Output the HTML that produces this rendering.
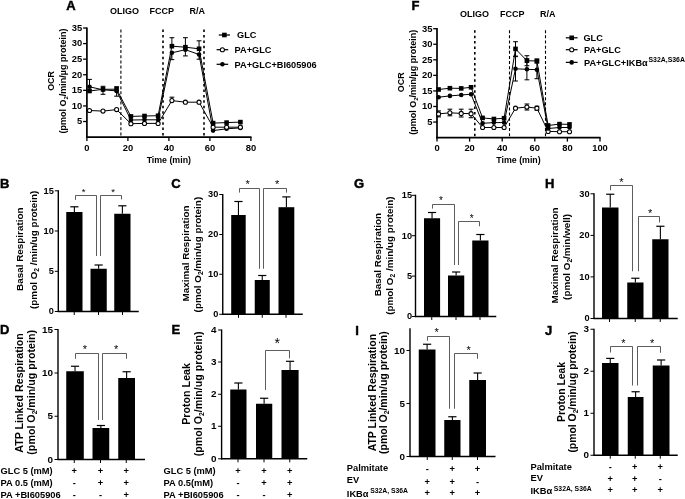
<!DOCTYPE html><html><head><meta charset="utf-8"><title>Figure</title><style>html,body{margin:0;padding:0;background:#fff}svg{display:block}text{font-family:"Liberation Sans", sans-serif;fill:#000}</style></head><body>
<svg width="685" height="499" viewBox="0 0 685 499">
<rect width="685" height="499" fill="#fff"/>
<text x="66.3" y="10.4" font-size="13" text-anchor="start" font-weight="bold" stroke="#000" stroke-width="0.45">A</text>
<line x1="86.9" y1="27.4" x2="86.9" y2="137.95" stroke="#000" stroke-width="1.7"/>
<line x1="83.1" y1="121.51" x2="86.9" y2="121.51" stroke="#000" stroke-width="1.3"/>
<text x="82.3" y="124.31" font-size="9.4" text-anchor="end" font-weight="bold">5</text>
<line x1="83.1" y1="105.93" x2="86.9" y2="105.93" stroke="#000" stroke-width="1.3"/>
<text x="82.3" y="108.73" font-size="9.4" text-anchor="end" font-weight="bold">10</text>
<line x1="83.1" y1="90.34" x2="86.9" y2="90.34" stroke="#000" stroke-width="1.3"/>
<text x="82.3" y="93.14" font-size="9.4" text-anchor="end" font-weight="bold">15</text>
<line x1="83.1" y1="74.76" x2="86.9" y2="74.76" stroke="#000" stroke-width="1.3"/>
<text x="82.3" y="77.56" font-size="9.4" text-anchor="end" font-weight="bold">20</text>
<line x1="83.1" y1="59.17" x2="86.9" y2="59.17" stroke="#000" stroke-width="1.3"/>
<text x="82.3" y="61.97" font-size="9.4" text-anchor="end" font-weight="bold">25</text>
<line x1="83.1" y1="43.59" x2="86.9" y2="43.59" stroke="#000" stroke-width="1.3"/>
<text x="82.3" y="46.39" font-size="9.4" text-anchor="end" font-weight="bold">30</text>
<line x1="83.1" y1="28.0" x2="86.9" y2="28.0" stroke="#000" stroke-width="1.3"/>
<text x="82.3" y="30.8" font-size="9.4" text-anchor="end" font-weight="bold">35</text>
<line x1="86.05" y1="137.1" x2="251.5" y2="137.1" stroke="#000" stroke-width="1.7"/>
<line x1="86.9" y1="137.1" x2="86.9" y2="141.1" stroke="#000" stroke-width="1.3"/>
<text x="86.9" y="150.6" font-size="9.4" text-anchor="middle" font-weight="bold">0</text>
<line x1="127.9" y1="137.1" x2="127.9" y2="141.1" stroke="#000" stroke-width="1.3"/>
<text x="127.9" y="150.6" font-size="9.4" text-anchor="middle" font-weight="bold">20</text>
<line x1="168.9" y1="137.1" x2="168.9" y2="141.1" stroke="#000" stroke-width="1.3"/>
<text x="168.9" y="150.6" font-size="9.4" text-anchor="middle" font-weight="bold">40</text>
<line x1="209.9" y1="137.1" x2="209.9" y2="141.1" stroke="#000" stroke-width="1.3"/>
<text x="209.9" y="150.6" font-size="9.4" text-anchor="middle" font-weight="bold">60</text>
<line x1="250.9" y1="137.1" x2="250.9" y2="141.1" stroke="#000" stroke-width="1.3"/>
<text x="250.9" y="150.6" font-size="9.4" text-anchor="middle" font-weight="bold">80</text>
<line x1="120.9" y1="29.5" x2="120.9" y2="137.1" stroke="#000" stroke-width="1.1" stroke-dasharray="3 2.15"/>
<line x1="163" y1="29.5" x2="163" y2="137.1" stroke="#000" stroke-width="1.6" stroke-dasharray="2.5 2.95"/>
<line x1="204" y1="29.5" x2="204" y2="137.1" stroke="#000" stroke-width="1.6" stroke-dasharray="2.5 2.95"/>
<text x="110" y="14.4" font-size="9" text-anchor="start" font-weight="bold">OLIGO</text>
<text x="149.5" y="14.4" font-size="9" text-anchor="start" font-weight="bold">FCCP</text>
<text x="189.5" y="14.4" font-size="9" text-anchor="start" font-weight="bold">R/A</text>
<polyline points="89.5,86.8 103,89.8 116.6,90.9 130.9,120 144.5,119.8 158.1,119.8 171.9,52.8 185.4,49.7 199.05,54.5 213.1,130.6 226.6,128.8 240.4,127.9" fill="none" stroke="#000" stroke-width="1.0"/>
<polyline points="89.5,91 103,89.3 116.6,89.2 130.9,116.4 144.5,116 158.1,115.7 171.9,46.2 185.4,47.2 199.05,48.8 213.1,123.1 226.6,122.6 240.4,122.1" fill="none" stroke="#000" stroke-width="1.0"/>
<polyline points="89.5,110.5 103,111.1 116.6,109.6 130.9,123.7 144.5,123.4 158.1,123.4 171.9,100.6 185.4,102.2 199.05,102.2 213.1,127.2 226.6,127.2 240.4,127.2" fill="none" stroke="#000" stroke-width="1.0"/>
<line x1="89.5" y1="79.4" x2="89.5" y2="86.8" stroke="#000" stroke-width="1.0"/>
<line x1="87.1" y1="79.4" x2="91.9" y2="79.4" stroke="#000" stroke-width="1.05"/>
<line x1="103" y1="94.3" x2="103" y2="89.8" stroke="#000" stroke-width="1.0"/>
<line x1="100.6" y1="94.3" x2="105.4" y2="94.3" stroke="#000" stroke-width="1.05"/>
<line x1="116.6" y1="96.2" x2="116.6" y2="90.9" stroke="#000" stroke-width="1.0"/>
<line x1="114.2" y1="96.2" x2="119.0" y2="96.2" stroke="#000" stroke-width="1.05"/>
<line x1="171.9" y1="59.6" x2="171.9" y2="52.8" stroke="#000" stroke-width="1.0"/>
<line x1="169.5" y1="59.6" x2="174.3" y2="59.6" stroke="#000" stroke-width="1.05"/>
<line x1="185.4" y1="55.9" x2="185.4" y2="49.7" stroke="#000" stroke-width="1.0"/>
<line x1="183.0" y1="55.9" x2="187.8" y2="55.9" stroke="#000" stroke-width="1.05"/>
<line x1="199.05" y1="59.2" x2="199.05" y2="54.5" stroke="#000" stroke-width="1.0"/>
<line x1="196.65" y1="59.2" x2="201.45" y2="59.2" stroke="#000" stroke-width="1.05"/>
<line x1="103" y1="86.3" x2="103" y2="89.3" stroke="#000" stroke-width="1.0"/>
<line x1="100.6" y1="86.3" x2="105.4" y2="86.3" stroke="#000" stroke-width="1.05"/>
<line x1="116.6" y1="86.7" x2="116.6" y2="89.2" stroke="#000" stroke-width="1.0"/>
<line x1="114.2" y1="86.7" x2="119.0" y2="86.7" stroke="#000" stroke-width="1.05"/>
<line x1="171.9" y1="37.7" x2="171.9" y2="46.2" stroke="#000" stroke-width="1.0"/>
<line x1="169.5" y1="37.7" x2="174.3" y2="37.7" stroke="#000" stroke-width="1.05"/>
<line x1="185.4" y1="37.7" x2="185.4" y2="47.2" stroke="#000" stroke-width="1.0"/>
<line x1="183.0" y1="37.7" x2="187.8" y2="37.7" stroke="#000" stroke-width="1.05"/>
<line x1="199.05" y1="40.8" x2="199.05" y2="48.8" stroke="#000" stroke-width="1.0"/>
<line x1="196.65" y1="40.8" x2="201.45" y2="40.8" stroke="#000" stroke-width="1.05"/>
<line x1="171.9" y1="97.2" x2="171.9" y2="100.6" stroke="#000" stroke-width="1.0"/>
<line x1="169.5" y1="97.2" x2="174.3" y2="97.2" stroke="#000" stroke-width="1.05"/>
<circle cx="89.5" cy="86.8" r="2.3" fill="#000"/>
<circle cx="103" cy="89.8" r="2.3" fill="#000"/>
<circle cx="116.6" cy="90.9" r="2.3" fill="#000"/>
<circle cx="130.9" cy="120" r="2.3" fill="#000"/>
<circle cx="144.5" cy="119.8" r="2.3" fill="#000"/>
<circle cx="158.1" cy="119.8" r="2.3" fill="#000"/>
<circle cx="171.9" cy="52.8" r="2.3" fill="#000"/>
<circle cx="185.4" cy="49.7" r="2.3" fill="#000"/>
<circle cx="199.05" cy="54.5" r="2.3" fill="#000"/>
<circle cx="213.1" cy="130.6" r="2.3" fill="#000"/>
<circle cx="226.6" cy="128.8" r="2.3" fill="#000"/>
<circle cx="240.4" cy="127.9" r="2.3" fill="#000"/>
<rect x="87.2" y="88.7" width="4.6" height="4.6" fill="#000"/>
<rect x="100.7" y="87.0" width="4.6" height="4.6" fill="#000"/>
<rect x="114.3" y="86.9" width="4.6" height="4.6" fill="#000"/>
<rect x="128.6" y="114.1" width="4.6" height="4.6" fill="#000"/>
<rect x="142.2" y="113.7" width="4.6" height="4.6" fill="#000"/>
<rect x="155.8" y="113.4" width="4.6" height="4.6" fill="#000"/>
<rect x="169.6" y="43.9" width="4.6" height="4.6" fill="#000"/>
<rect x="183.1" y="44.9" width="4.6" height="4.6" fill="#000"/>
<rect x="196.75" y="46.5" width="4.6" height="4.6" fill="#000"/>
<rect x="210.8" y="120.8" width="4.6" height="4.6" fill="#000"/>
<rect x="224.3" y="120.3" width="4.6" height="4.6" fill="#000"/>
<rect x="238.1" y="119.8" width="4.6" height="4.6" fill="#000"/>
<circle cx="89.5" cy="110.5" r="2.05" fill="#fff" stroke="#000" stroke-width="1.05"/>
<circle cx="103" cy="111.1" r="2.05" fill="#fff" stroke="#000" stroke-width="1.05"/>
<circle cx="116.6" cy="109.6" r="2.05" fill="#fff" stroke="#000" stroke-width="1.05"/>
<circle cx="130.9" cy="123.7" r="2.05" fill="#fff" stroke="#000" stroke-width="1.05"/>
<circle cx="144.5" cy="123.4" r="2.05" fill="#fff" stroke="#000" stroke-width="1.05"/>
<circle cx="158.1" cy="123.4" r="2.05" fill="#fff" stroke="#000" stroke-width="1.05"/>
<circle cx="171.9" cy="100.6" r="2.05" fill="#fff" stroke="#000" stroke-width="1.05"/>
<circle cx="185.4" cy="102.2" r="2.05" fill="#fff" stroke="#000" stroke-width="1.05"/>
<circle cx="199.05" cy="102.2" r="2.05" fill="#fff" stroke="#000" stroke-width="1.05"/>
<circle cx="213.1" cy="127.2" r="2.05" fill="#fff" stroke="#000" stroke-width="1.05"/>
<circle cx="226.6" cy="127.2" r="2.05" fill="#fff" stroke="#000" stroke-width="1.05"/>
<circle cx="240.4" cy="127.2" r="2.05" fill="#fff" stroke="#000" stroke-width="1.05"/>
<line x1="218.8" y1="35" x2="230" y2="35" stroke="#000" stroke-width="1.25"/>
<rect x="222.1" y="32.7" width="4.6" height="4.6" fill="#000"/>
<text x="237" y="38.3" font-size="9.2" text-anchor="start" font-weight="bold">GLC</text>
<line x1="216.6" y1="49.7" x2="228.2" y2="49.7" stroke="#000" stroke-width="1.25"/>
<circle cx="222.4" cy="49.7" r="2.05" fill="#fff" stroke="#000" stroke-width="1.05"/>
<text x="234.6" y="53.0" font-size="9.2" text-anchor="start" font-weight="bold">PA+GLC</text>
<line x1="216.6" y1="64.3" x2="228.2" y2="64.3" stroke="#000" stroke-width="1.25"/>
<circle cx="222.4" cy="64.3" r="2.3" fill="#000"/>
<text x="234.6" y="67.6" font-size="9.2" text-anchor="start" font-weight="bold">PA+GLC+BI605906</text>
<text x="54.2" y="81" font-size="8.9" text-anchor="middle" font-weight="bold" transform="rotate(-90 54.2 81)">OCR</text>
<text x="66.2" y="81" font-size="9.0" text-anchor="middle" font-weight="bold" transform="rotate(-90 66.2 81)">(pmol O<tspan font-size="6" dy="2">2</tspan><tspan dy="-2">/min/µg protein)</tspan></text>
<text x="168.8" y="163.2" font-size="8.8" text-anchor="middle" font-weight="bold">Time (min)</text>
<text x="411.5" y="10.4" font-size="13" text-anchor="start" font-weight="bold" stroke="#000" stroke-width="0.45">F</text>
<line x1="437" y1="28.1" x2="437" y2="138.45" stroke="#000" stroke-width="1.7"/>
<line x1="433.2" y1="122.04" x2="437" y2="122.04" stroke="#000" stroke-width="1.3"/>
<text x="432.4" y="124.84" font-size="9.4" text-anchor="end" font-weight="bold">5</text>
<line x1="433.2" y1="106.49" x2="437" y2="106.49" stroke="#000" stroke-width="1.3"/>
<text x="432.4" y="109.29" font-size="9.4" text-anchor="end" font-weight="bold">10</text>
<line x1="433.2" y1="90.93" x2="437" y2="90.93" stroke="#000" stroke-width="1.3"/>
<text x="432.4" y="93.73" font-size="9.4" text-anchor="end" font-weight="bold">15</text>
<line x1="433.2" y1="75.37" x2="437" y2="75.37" stroke="#000" stroke-width="1.3"/>
<text x="432.4" y="78.17" font-size="9.4" text-anchor="end" font-weight="bold">20</text>
<line x1="433.2" y1="59.81" x2="437" y2="59.81" stroke="#000" stroke-width="1.3"/>
<text x="432.4" y="62.61" font-size="9.4" text-anchor="end" font-weight="bold">25</text>
<line x1="433.2" y1="44.26" x2="437" y2="44.26" stroke="#000" stroke-width="1.3"/>
<text x="432.4" y="47.06" font-size="9.4" text-anchor="end" font-weight="bold">30</text>
<line x1="433.2" y1="28.7" x2="437" y2="28.7" stroke="#000" stroke-width="1.3"/>
<text x="432.4" y="31.5" font-size="9.4" text-anchor="end" font-weight="bold">35</text>
<line x1="436.15" y1="137.6" x2="600.6" y2="137.6" stroke="#000" stroke-width="1.7"/>
<line x1="437.0" y1="137.6" x2="437.0" y2="141.6" stroke="#000" stroke-width="1.3"/>
<text x="437.0" y="151.1" font-size="9.4" text-anchor="middle" font-weight="bold">0</text>
<line x1="469.6" y1="137.6" x2="469.6" y2="141.6" stroke="#000" stroke-width="1.3"/>
<text x="469.6" y="151.1" font-size="9.4" text-anchor="middle" font-weight="bold">20</text>
<line x1="502.2" y1="137.6" x2="502.2" y2="141.6" stroke="#000" stroke-width="1.3"/>
<text x="502.2" y="151.1" font-size="9.4" text-anchor="middle" font-weight="bold">40</text>
<line x1="534.8" y1="137.6" x2="534.8" y2="141.6" stroke="#000" stroke-width="1.3"/>
<text x="534.8" y="151.1" font-size="9.4" text-anchor="middle" font-weight="bold">60</text>
<line x1="567.4" y1="137.6" x2="567.4" y2="141.6" stroke="#000" stroke-width="1.3"/>
<text x="567.4" y="151.1" font-size="9.4" text-anchor="middle" font-weight="bold">80</text>
<line x1="600.0" y1="137.6" x2="600.0" y2="141.6" stroke="#000" stroke-width="1.3"/>
<text x="600.0" y="151.1" font-size="9.4" text-anchor="middle" font-weight="bold">100</text>
<line x1="474.8" y1="30.2" x2="474.8" y2="137.6" stroke="#000" stroke-width="1.6" stroke-dasharray="2.5 2.95"/>
<line x1="509.5" y1="30.2" x2="509.5" y2="137.6" stroke="#000" stroke-width="1.1" stroke-dasharray="3 2.15"/>
<line x1="545.5" y1="30.2" x2="545.5" y2="137.6" stroke="#000" stroke-width="1.1" stroke-dasharray="3 2.15"/>
<text x="460" y="16.8" font-size="9" text-anchor="start" font-weight="bold">OLIGO</text>
<text x="500" y="16.8" font-size="9" text-anchor="start" font-weight="bold">FCCP</text>
<text x="540" y="16.8" font-size="9" text-anchor="start" font-weight="bold">R/A</text>
<polyline points="438.6,113.9 449.9,112.8 461.2,113.4 471.05,113.7 482.6,127.5 493.9,127.5 504.1,127.5 515.5,108.2 526.9,107 536.9,108.2 548.1,131.4 559.5,131.7 569.5,131.7" fill="none" stroke="#000" stroke-width="1.0"/>
<polyline points="438.6,89.5 449.9,88.2 461.2,88.4 471.05,87.3 482.6,117.9 493.9,119 504.1,118.2 515.5,48.9 526.9,60.7 536.9,61 548.1,125.5 559.5,124.1 569.5,124.4" fill="none" stroke="#000" stroke-width="1.0"/>
<polyline points="438.6,97.2 449.9,95.9 461.2,95 471.05,94.2 482.6,123.3 493.9,122.6 504.1,122.6 515.5,68.8 526.9,69.3 536.9,69.7 548.1,128.5 559.5,127.5 569.5,127.5" fill="none" stroke="#000" stroke-width="1.0"/>
<line x1="438.6" y1="110.9" x2="438.6" y2="113.9" stroke="#000" stroke-width="1.0"/>
<line x1="436.2" y1="110.9" x2="441.0" y2="110.9" stroke="#000" stroke-width="1.05"/>
<line x1="438.6" y1="116.9" x2="438.6" y2="113.9" stroke="#000" stroke-width="1.0"/>
<line x1="436.2" y1="116.9" x2="441.0" y2="116.9" stroke="#000" stroke-width="1.05"/>
<line x1="449.9" y1="109.2" x2="449.9" y2="112.8" stroke="#000" stroke-width="1.0"/>
<line x1="447.5" y1="109.2" x2="452.3" y2="109.2" stroke="#000" stroke-width="1.05"/>
<line x1="449.9" y1="115.8" x2="449.9" y2="112.8" stroke="#000" stroke-width="1.0"/>
<line x1="447.5" y1="115.8" x2="452.3" y2="115.8" stroke="#000" stroke-width="1.05"/>
<line x1="461.2" y1="109.2" x2="461.2" y2="113.4" stroke="#000" stroke-width="1.0"/>
<line x1="458.8" y1="109.2" x2="463.6" y2="109.2" stroke="#000" stroke-width="1.05"/>
<line x1="461.2" y1="117.0" x2="461.2" y2="113.4" stroke="#000" stroke-width="1.0"/>
<line x1="458.8" y1="117.0" x2="463.6" y2="117.0" stroke="#000" stroke-width="1.05"/>
<line x1="471.05" y1="109.2" x2="471.05" y2="113.7" stroke="#000" stroke-width="1.0"/>
<line x1="468.65" y1="109.2" x2="473.45" y2="109.2" stroke="#000" stroke-width="1.05"/>
<line x1="471.05" y1="117.7" x2="471.05" y2="113.7" stroke="#000" stroke-width="1.0"/>
<line x1="468.65" y1="117.7" x2="473.45" y2="117.7" stroke="#000" stroke-width="1.05"/>
<line x1="526.9" y1="104" x2="526.9" y2="107" stroke="#000" stroke-width="1.0"/>
<line x1="524.5" y1="104" x2="529.3" y2="104" stroke="#000" stroke-width="1.05"/>
<line x1="526.9" y1="110" x2="526.9" y2="107" stroke="#000" stroke-width="1.0"/>
<line x1="524.5" y1="110" x2="529.3" y2="110" stroke="#000" stroke-width="1.05"/>
<line x1="536.9" y1="106.2" x2="536.9" y2="108.2" stroke="#000" stroke-width="1.0"/>
<line x1="534.5" y1="106.2" x2="539.3" y2="106.2" stroke="#000" stroke-width="1.05"/>
<line x1="536.9" y1="110.2" x2="536.9" y2="108.2" stroke="#000" stroke-width="1.0"/>
<line x1="534.5" y1="110.2" x2="539.3" y2="110.2" stroke="#000" stroke-width="1.05"/>
<line x1="515.5" y1="41.7" x2="515.5" y2="48.9" stroke="#000" stroke-width="1.0"/>
<line x1="513.1" y1="41.7" x2="517.9" y2="41.7" stroke="#000" stroke-width="1.05"/>
<line x1="515.5" y1="56.1" x2="515.5" y2="48.9" stroke="#000" stroke-width="1.0"/>
<line x1="513.1" y1="56.1" x2="517.9" y2="56.1" stroke="#000" stroke-width="1.05"/>
<line x1="526.9" y1="55.7" x2="526.9" y2="60.7" stroke="#000" stroke-width="1.0"/>
<line x1="524.5" y1="55.7" x2="529.3" y2="55.7" stroke="#000" stroke-width="1.05"/>
<line x1="526.9" y1="65.7" x2="526.9" y2="60.7" stroke="#000" stroke-width="1.0"/>
<line x1="524.5" y1="65.7" x2="529.3" y2="65.7" stroke="#000" stroke-width="1.05"/>
<line x1="536.9" y1="59" x2="536.9" y2="61" stroke="#000" stroke-width="1.0"/>
<line x1="534.5" y1="59" x2="539.3" y2="59" stroke="#000" stroke-width="1.05"/>
<line x1="536.9" y1="63" x2="536.9" y2="61" stroke="#000" stroke-width="1.0"/>
<line x1="534.5" y1="63" x2="539.3" y2="63" stroke="#000" stroke-width="1.05"/>
<line x1="515.5" y1="56.6" x2="515.5" y2="68.8" stroke="#000" stroke-width="1.0"/>
<line x1="513.1" y1="56.6" x2="517.9" y2="56.6" stroke="#000" stroke-width="1.05"/>
<line x1="515.5" y1="81.0" x2="515.5" y2="68.8" stroke="#000" stroke-width="1.0"/>
<line x1="513.1" y1="81.0" x2="517.9" y2="81.0" stroke="#000" stroke-width="1.05"/>
<line x1="526.9" y1="58.8" x2="526.9" y2="69.3" stroke="#000" stroke-width="1.0"/>
<line x1="524.5" y1="58.8" x2="529.3" y2="58.8" stroke="#000" stroke-width="1.05"/>
<line x1="526.9" y1="79.8" x2="526.9" y2="69.3" stroke="#000" stroke-width="1.0"/>
<line x1="524.5" y1="79.8" x2="529.3" y2="79.8" stroke="#000" stroke-width="1.05"/>
<line x1="536.9" y1="60.7" x2="536.9" y2="69.7" stroke="#000" stroke-width="1.0"/>
<line x1="534.5" y1="60.7" x2="539.3" y2="60.7" stroke="#000" stroke-width="1.05"/>
<line x1="536.9" y1="78.7" x2="536.9" y2="69.7" stroke="#000" stroke-width="1.0"/>
<line x1="534.5" y1="78.7" x2="539.3" y2="78.7" stroke="#000" stroke-width="1.05"/>
<circle cx="438.6" cy="113.9" r="2.05" fill="#fff" stroke="#000" stroke-width="1.05"/>
<circle cx="449.9" cy="112.8" r="2.05" fill="#fff" stroke="#000" stroke-width="1.05"/>
<circle cx="461.2" cy="113.4" r="2.05" fill="#fff" stroke="#000" stroke-width="1.05"/>
<circle cx="471.05" cy="113.7" r="2.05" fill="#fff" stroke="#000" stroke-width="1.05"/>
<circle cx="482.6" cy="127.5" r="2.05" fill="#fff" stroke="#000" stroke-width="1.05"/>
<circle cx="493.9" cy="127.5" r="2.05" fill="#fff" stroke="#000" stroke-width="1.05"/>
<circle cx="504.1" cy="127.5" r="2.05" fill="#fff" stroke="#000" stroke-width="1.05"/>
<circle cx="515.5" cy="108.2" r="2.05" fill="#fff" stroke="#000" stroke-width="1.05"/>
<circle cx="526.9" cy="107" r="2.05" fill="#fff" stroke="#000" stroke-width="1.05"/>
<circle cx="536.9" cy="108.2" r="2.05" fill="#fff" stroke="#000" stroke-width="1.05"/>
<circle cx="548.1" cy="131.4" r="2.05" fill="#fff" stroke="#000" stroke-width="1.05"/>
<circle cx="559.5" cy="131.7" r="2.05" fill="#fff" stroke="#000" stroke-width="1.05"/>
<circle cx="569.5" cy="131.7" r="2.05" fill="#fff" stroke="#000" stroke-width="1.05"/>
<rect x="436.3" y="87.2" width="4.6" height="4.6" fill="#000"/>
<rect x="447.6" y="85.9" width="4.6" height="4.6" fill="#000"/>
<rect x="458.9" y="86.1" width="4.6" height="4.6" fill="#000"/>
<rect x="468.75" y="85.0" width="4.6" height="4.6" fill="#000"/>
<rect x="480.3" y="115.6" width="4.6" height="4.6" fill="#000"/>
<rect x="491.6" y="116.7" width="4.6" height="4.6" fill="#000"/>
<rect x="501.8" y="115.9" width="4.6" height="4.6" fill="#000"/>
<rect x="513.2" y="46.6" width="4.6" height="4.6" fill="#000"/>
<rect x="524.6" y="58.4" width="4.6" height="4.6" fill="#000"/>
<rect x="534.6" y="58.7" width="4.6" height="4.6" fill="#000"/>
<rect x="545.8" y="123.2" width="4.6" height="4.6" fill="#000"/>
<rect x="557.2" y="121.8" width="4.6" height="4.6" fill="#000"/>
<rect x="567.2" y="122.1" width="4.6" height="4.6" fill="#000"/>
<circle cx="438.6" cy="97.2" r="2.3" fill="#000"/>
<circle cx="449.9" cy="95.9" r="2.3" fill="#000"/>
<circle cx="461.2" cy="95" r="2.3" fill="#000"/>
<circle cx="471.05" cy="94.2" r="2.3" fill="#000"/>
<circle cx="482.6" cy="123.3" r="2.3" fill="#000"/>
<circle cx="493.9" cy="122.6" r="2.3" fill="#000"/>
<circle cx="504.1" cy="122.6" r="2.3" fill="#000"/>
<circle cx="515.5" cy="68.8" r="2.3" fill="#000"/>
<circle cx="526.9" cy="69.3" r="2.3" fill="#000"/>
<circle cx="536.9" cy="69.7" r="2.3" fill="#000"/>
<circle cx="548.1" cy="128.5" r="2.3" fill="#000"/>
<circle cx="559.5" cy="127.5" r="2.3" fill="#000"/>
<circle cx="569.5" cy="127.5" r="2.3" fill="#000"/>
<line x1="565.8" y1="37.8" x2="577.6" y2="37.8" stroke="#000" stroke-width="1.25"/>
<rect x="569.4" y="35.5" width="4.6" height="4.6" fill="#000"/>
<text x="583.4" y="41.1" font-size="9.2" text-anchor="start" font-weight="bold">GLC</text>
<line x1="565.8" y1="49.7" x2="577.6" y2="49.7" stroke="#000" stroke-width="1.25"/>
<circle cx="571.7" cy="49.7" r="2.05" fill="#fff" stroke="#000" stroke-width="1.05"/>
<text x="584" y="53.0" font-size="9.2" text-anchor="start" font-weight="bold">PA+GLC</text>
<line x1="565.8" y1="62.4" x2="577.6" y2="62.4" stroke="#000" stroke-width="1.25"/>
<circle cx="571.7" cy="62.4" r="2.3" fill="#000"/>
<text x="584" y="65.7" font-size="9.2" text-anchor="start" font-weight="bold">PA+GLC+IKBα<tspan font-size="6.9" dy="-3.9" dx="0.8">S32A,S36A</tspan></text>
<text x="404.2" y="82.3" font-size="8.9" text-anchor="middle" font-weight="bold" transform="rotate(-90 404.2 82.3)">OCR</text>
<text x="416.2" y="82.3" font-size="9.0" text-anchor="middle" font-weight="bold" transform="rotate(-90 416.2 82.3)">(pmol O<tspan font-size="6" dy="2">2</tspan><tspan dy="-2">/min/µg protein)</tspan></text>
<text x="518.5" y="163.2" font-size="8.8" text-anchor="middle" font-weight="bold">Time (min)</text>
<text x="0" y="188" font-size="13" text-anchor="start" font-weight="bold" stroke="#000" stroke-width="0.45">B</text>
<line x1="58.3" y1="190.3" x2="58.3" y2="312.1" stroke="#000" stroke-width="1.4"/>
<line x1="54.8" y1="190.8" x2="58.3" y2="190.8" stroke="#000" stroke-width="1"/>
<text x="53.8" y="193.71" font-size="9.2" text-anchor="end" font-weight="bold">15</text>
<line x1="54.8" y1="231" x2="58.3" y2="231" stroke="#000" stroke-width="1"/>
<text x="53.8" y="233.91" font-size="9.2" text-anchor="end" font-weight="bold">10</text>
<line x1="54.8" y1="271.3" x2="58.3" y2="271.3" stroke="#000" stroke-width="1"/>
<text x="53.8" y="274.21" font-size="9.2" text-anchor="end" font-weight="bold">5</text>
<line x1="54.8" y1="311.5" x2="58.3" y2="311.5" stroke="#000" stroke-width="1"/>
<text x="53.8" y="314.41" font-size="9.2" text-anchor="end" font-weight="bold">0</text>
<line x1="57.7" y1="311.5" x2="138.75" y2="311.5" stroke="#000" stroke-width="1.4"/>
<line x1="74.25" y1="311.5" x2="74.25" y2="315.0" stroke="#000" stroke-width="1"/>
<line x1="98.5" y1="311.5" x2="98.5" y2="315.0" stroke="#000" stroke-width="1"/>
<line x1="122.5" y1="311.5" x2="122.5" y2="315.0" stroke="#000" stroke-width="1"/>
<rect x="66.25" y="212" width="16.25" height="99.5" fill="#000"/>
<line x1="74.38" y1="206.8" x2="74.38" y2="212" stroke="#000" stroke-width="1.1"/>
<line x1="70.28" y1="206.8" x2="78.47" y2="206.8" stroke="#000" stroke-width="1.2"/>
<rect x="90.5" y="268.75" width="16.25" height="42.75" fill="#000"/>
<line x1="98.62" y1="265" x2="98.62" y2="268.75" stroke="#000" stroke-width="1.1"/>
<line x1="94.53" y1="265" x2="102.72" y2="265" stroke="#000" stroke-width="1.2"/>
<rect x="114.25" y="213.75" width="16.25" height="97.75" fill="#000"/>
<line x1="122.38" y1="205.8" x2="122.38" y2="213.75" stroke="#000" stroke-width="1.1"/>
<line x1="118.28" y1="205.8" x2="126.47" y2="205.8" stroke="#000" stroke-width="1.2"/>
<polyline points="75.5,199.9 75.5,195.5 96.5,195.5 96.5,256" fill="none" stroke="#333" stroke-width="0.8"/>
<polyline points="100.5,256 100.5,195.5 121.5,195.5 121.5,199.4" fill="none" stroke="#333" stroke-width="0.8"/>
<text x="83.7" y="194.75" font-size="9.5" text-anchor="middle" font-weight="normal">*</text>
<text x="113.2" y="194.75" font-size="9.5" text-anchor="middle" font-weight="normal">*</text>
<text x="23.06" y="249.2" font-size="9.9" text-anchor="middle" font-weight="bold" transform="rotate(-90 23.06 249.2)">Basal Respiration</text>
<text x="36.56" y="249.8" font-size="9.9" text-anchor="middle" font-weight="bold" transform="rotate(-90 36.56 249.8)">(pmol O<tspan font-size="6.6" dy="2">2</tspan><tspan dy="-2">&#160;/min/ug protein)</tspan></text>
<text x="171.3" y="188" font-size="13" text-anchor="start" font-weight="bold" stroke="#000" stroke-width="0.45">C</text>
<line x1="222.75" y1="194.0" x2="222.75" y2="314.9" stroke="#000" stroke-width="1.4"/>
<line x1="219.25" y1="194.5" x2="222.75" y2="194.5" stroke="#000" stroke-width="1"/>
<text x="218.25" y="197.41" font-size="9.2" text-anchor="end" font-weight="bold">30</text>
<line x1="219.25" y1="234.5" x2="222.75" y2="234.5" stroke="#000" stroke-width="1"/>
<text x="218.25" y="237.41" font-size="9.2" text-anchor="end" font-weight="bold">20</text>
<line x1="219.25" y1="274.25" x2="222.75" y2="274.25" stroke="#000" stroke-width="1"/>
<text x="218.25" y="277.16" font-size="9.2" text-anchor="end" font-weight="bold">10</text>
<line x1="219.25" y1="314.3" x2="222.75" y2="314.3" stroke="#000" stroke-width="1"/>
<text x="218.25" y="317.21" font-size="9.2" text-anchor="end" font-weight="bold">0</text>
<line x1="222.15" y1="314.3" x2="302.75" y2="314.3" stroke="#000" stroke-width="1.4"/>
<line x1="238.5" y1="314.3" x2="238.5" y2="317.8" stroke="#000" stroke-width="1"/>
<line x1="262.25" y1="314.3" x2="262.25" y2="317.8" stroke="#000" stroke-width="1"/>
<line x1="286" y1="314.3" x2="286" y2="317.8" stroke="#000" stroke-width="1"/>
<rect x="231.2" y="215" width="14.5" height="99.3" fill="#000"/>
<line x1="238.45" y1="201.5" x2="238.45" y2="215" stroke="#000" stroke-width="1.1"/>
<line x1="234.35" y1="201.5" x2="242.55" y2="201.5" stroke="#000" stroke-width="1.2"/>
<rect x="254.75" y="280" width="15.0" height="34.3" fill="#000"/>
<line x1="262.25" y1="275.5" x2="262.25" y2="280" stroke="#000" stroke-width="1.1"/>
<line x1="258.15" y1="275.5" x2="266.35" y2="275.5" stroke="#000" stroke-width="1.2"/>
<rect x="278.5" y="207.2" width="15.8" height="107.1" fill="#000"/>
<line x1="286.4" y1="196.9" x2="286.4" y2="207.2" stroke="#000" stroke-width="1.1"/>
<line x1="282.3" y1="196.9" x2="290.5" y2="196.9" stroke="#000" stroke-width="1.2"/>
<polyline points="239.5,192.6 239.5,188.5 259.5,188.5 259.5,268.75" fill="none" stroke="#333" stroke-width="0.8"/>
<polyline points="263.5,268.75 263.5,188.5 286.5,188.5 286.5,192.6" fill="none" stroke="#333" stroke-width="0.8"/>
<text x="247.75" y="187.61" font-size="11" text-anchor="middle" font-weight="normal">*</text>
<text x="277.25" y="187.61" font-size="11" text-anchor="middle" font-weight="normal">*</text>
<text x="189.06" y="253.5" font-size="9.9" text-anchor="middle" font-weight="bold" transform="rotate(-90 189.06 253.5)">Maximal Respiration</text>
<text x="201.26" y="254.6" font-size="9.9" text-anchor="middle" font-weight="bold" transform="rotate(-90 201.26 254.6)">(pmol O<tspan font-size="6.6" dy="2">2</tspan><tspan dy="-2">/min/ug protein)</tspan></text>
<text x="0" y="334.3" font-size="13" text-anchor="start" font-weight="bold" stroke="#000" stroke-width="0.45">D</text>
<line x1="58" y1="329.0" x2="58" y2="460.1" stroke="#000" stroke-width="1.4"/>
<line x1="54.5" y1="329.5" x2="58" y2="329.5" stroke="#000" stroke-width="1"/>
<text x="53.0" y="332.66" font-size="9.9" text-anchor="end" font-weight="bold">15</text>
<line x1="54.5" y1="373" x2="58" y2="373" stroke="#000" stroke-width="1"/>
<text x="53.0" y="376.16" font-size="9.9" text-anchor="end" font-weight="bold">10</text>
<line x1="54.5" y1="416.25" x2="58" y2="416.25" stroke="#000" stroke-width="1"/>
<text x="53.0" y="419.41" font-size="9.9" text-anchor="end" font-weight="bold">5</text>
<line x1="54.5" y1="459.5" x2="58" y2="459.5" stroke="#000" stroke-width="1"/>
<text x="53.0" y="462.66" font-size="9.9" text-anchor="end" font-weight="bold">0</text>
<line x1="57.4" y1="459.5" x2="145" y2="459.5" stroke="#000" stroke-width="1.4"/>
<line x1="74.25" y1="459.5" x2="74.25" y2="463.0" stroke="#000" stroke-width="1"/>
<line x1="100.5" y1="459.5" x2="100.5" y2="463.0" stroke="#000" stroke-width="1"/>
<line x1="126.25" y1="459.5" x2="126.25" y2="463.0" stroke="#000" stroke-width="1"/>
<rect x="66.25" y="371.25" width="17.55" height="88.25" fill="#000"/>
<line x1="75.03" y1="366.25" x2="75.03" y2="371.25" stroke="#000" stroke-width="1.1"/>
<line x1="70.93" y1="366.25" x2="79.12" y2="366.25" stroke="#000" stroke-width="1.2"/>
<rect x="92.5" y="428" width="16.75" height="31.5" fill="#000"/>
<line x1="100.88" y1="425.5" x2="100.88" y2="428" stroke="#000" stroke-width="1.1"/>
<line x1="96.78" y1="425.5" x2="104.97" y2="425.5" stroke="#000" stroke-width="1.2"/>
<rect x="118.25" y="378" width="16.75" height="81.5" fill="#000"/>
<line x1="126.62" y1="371.75" x2="126.62" y2="378" stroke="#000" stroke-width="1.1"/>
<line x1="122.53" y1="371.75" x2="130.72" y2="371.75" stroke="#000" stroke-width="1.2"/>
<polyline points="75.5,358.75 75.5,353.5 98.5,353.5 98.5,420" fill="none" stroke="#333" stroke-width="0.8"/>
<polyline points="102.5,420 102.5,353.5 126.5,353.5 126.5,358.75" fill="none" stroke="#333" stroke-width="0.8"/>
<text x="85" y="352.61" font-size="11" text-anchor="middle" font-weight="normal">*</text>
<text x="116.25" y="352.61" font-size="11" text-anchor="middle" font-weight="normal">*</text>
<text x="23.15" y="393" font-size="10.7" text-anchor="middle" font-weight="bold" transform="rotate(-90 23.15 393)">ATP Linked Respiration</text>
<text x="34.65" y="392.3" font-size="10.7" text-anchor="middle" font-weight="bold" transform="rotate(-90 34.65 392.3)">(pmol O<tspan font-size="6.6" dy="2">2</tspan><tspan dy="-2">/min/ug protein)</tspan></text>
<text x="171.5" y="334.3" font-size="13" text-anchor="start" font-weight="bold" stroke="#000" stroke-width="0.45">E</text>
<line x1="221.6" y1="329.5" x2="221.6" y2="459.4" stroke="#000" stroke-width="1.4"/>
<line x1="218.1" y1="330" x2="221.6" y2="330" stroke="#000" stroke-width="1"/>
<text x="216.6" y="333.16" font-size="9.9" text-anchor="end" font-weight="bold">4</text>
<line x1="218.1" y1="362" x2="221.6" y2="362" stroke="#000" stroke-width="1"/>
<text x="216.6" y="365.16" font-size="9.9" text-anchor="end" font-weight="bold">3</text>
<line x1="218.1" y1="394.25" x2="221.6" y2="394.25" stroke="#000" stroke-width="1"/>
<text x="216.6" y="397.41" font-size="9.9" text-anchor="end" font-weight="bold">2</text>
<line x1="218.1" y1="426.25" x2="221.6" y2="426.25" stroke="#000" stroke-width="1"/>
<text x="216.6" y="429.41" font-size="9.9" text-anchor="end" font-weight="bold">1</text>
<line x1="218.1" y1="458.8" x2="221.6" y2="458.8" stroke="#000" stroke-width="1"/>
<text x="216.6" y="461.96" font-size="9.9" text-anchor="end" font-weight="bold">0</text>
<line x1="221.0" y1="458.8" x2="307.25" y2="458.8" stroke="#000" stroke-width="1.4"/>
<line x1="238" y1="458.8" x2="238" y2="462.3" stroke="#000" stroke-width="1"/>
<line x1="264" y1="458.8" x2="264" y2="462.3" stroke="#000" stroke-width="1"/>
<line x1="289.75" y1="458.8" x2="289.75" y2="462.3" stroke="#000" stroke-width="1"/>
<rect x="230.25" y="389.5" width="16.25" height="69.3" fill="#000"/>
<line x1="238.38" y1="383" x2="238.38" y2="389.5" stroke="#000" stroke-width="1.1"/>
<line x1="234.28" y1="383" x2="242.47" y2="383" stroke="#000" stroke-width="1.2"/>
<rect x="256" y="403.75" width="16.25" height="55.05" fill="#000"/>
<line x1="264.12" y1="398.25" x2="264.12" y2="403.75" stroke="#000" stroke-width="1.1"/>
<line x1="260.02" y1="398.25" x2="268.23" y2="398.25" stroke="#000" stroke-width="1.2"/>
<rect x="281.5" y="370" width="17.1" height="88.8" fill="#000"/>
<line x1="290.05" y1="361.3" x2="290.05" y2="370" stroke="#000" stroke-width="1.1"/>
<line x1="285.95" y1="361.3" x2="294.15" y2="361.3" stroke="#000" stroke-width="1.2"/>
<polyline points="265.5,390 265.5,350.5 289.5,350.5 289.5,358.4" fill="none" stroke="#333" stroke-width="0.8"/>
<text x="277.2" y="348.34" font-size="14" text-anchor="middle" font-weight="normal">*</text>
<text x="190.35" y="393.9" font-size="10.7" text-anchor="middle" font-weight="bold" transform="rotate(-90 190.35 393.9)">Proton Leak</text>
<text x="201.85" y="393.9" font-size="10.7" text-anchor="middle" font-weight="bold" transform="rotate(-90 201.85 393.9)">(pmol O<tspan font-size="6.6" dy="2">2</tspan><tspan dy="-2">/min/ug protein)</tspan></text>
<text x="354" y="188.2" font-size="13" text-anchor="start" font-weight="bold" stroke="#000" stroke-width="0.45">G</text>
<line x1="415.5" y1="194.8" x2="415.5" y2="317.1" stroke="#000" stroke-width="1.4"/>
<line x1="412.0" y1="195.3" x2="415.5" y2="195.3" stroke="#000" stroke-width="1"/>
<text x="412.0" y="198.21" font-size="9.2" text-anchor="end" font-weight="bold">15</text>
<line x1="412.0" y1="235.7" x2="415.5" y2="235.7" stroke="#000" stroke-width="1"/>
<text x="412.0" y="238.61" font-size="9.2" text-anchor="end" font-weight="bold">10</text>
<line x1="412.0" y1="276.1" x2="415.5" y2="276.1" stroke="#000" stroke-width="1"/>
<text x="412.0" y="279.01" font-size="9.2" text-anchor="end" font-weight="bold">5</text>
<line x1="412.0" y1="316.5" x2="415.5" y2="316.5" stroke="#000" stroke-width="1"/>
<text x="412.0" y="319.41" font-size="9.2" text-anchor="end" font-weight="bold">0</text>
<line x1="414.9" y1="316.5" x2="496.25" y2="316.5" stroke="#000" stroke-width="1.4"/>
<line x1="431.75" y1="316.5" x2="431.75" y2="320.0" stroke="#000" stroke-width="1"/>
<line x1="456" y1="316.5" x2="456" y2="320.0" stroke="#000" stroke-width="1"/>
<line x1="480" y1="316.5" x2="480" y2="320.0" stroke="#000" stroke-width="1"/>
<rect x="424" y="218.25" width="16.1" height="98.25" fill="#000"/>
<line x1="432.05" y1="212.5" x2="432.05" y2="218.25" stroke="#000" stroke-width="1.1"/>
<line x1="427.95" y1="212.5" x2="436.15" y2="212.5" stroke="#000" stroke-width="1.2"/>
<rect x="448" y="275.5" width="16.25" height="41.0" fill="#000"/>
<line x1="456.12" y1="272" x2="456.12" y2="275.5" stroke="#000" stroke-width="1.1"/>
<line x1="452.02" y1="272" x2="460.23" y2="272" stroke="#000" stroke-width="1.2"/>
<rect x="472.25" y="240.5" width="16.25" height="76.0" fill="#000"/>
<line x1="480.38" y1="234.5" x2="480.38" y2="240.5" stroke="#000" stroke-width="1.1"/>
<line x1="476.27" y1="234.5" x2="484.48" y2="234.5" stroke="#000" stroke-width="1.2"/>
<polyline points="432.5,208.6 432.5,204.5 454.5,204.5 454.5,265" fill="none" stroke="#333" stroke-width="0.8"/>
<polyline points="458.5,265 458.5,221.5 479.5,221.5 479.5,226.25" fill="none" stroke="#333" stroke-width="0.8"/>
<text x="441" y="204.35" font-size="10" text-anchor="middle" font-weight="normal">*</text>
<text x="471.75" y="221.85" font-size="10" text-anchor="middle" font-weight="normal">*</text>
<text x="380.76" y="254.6" font-size="9.9" text-anchor="middle" font-weight="bold" transform="rotate(-90 380.76 254.6)">Basal Respiration</text>
<text x="393.06" y="255.6" font-size="9.9" text-anchor="middle" font-weight="bold" transform="rotate(-90 393.06 255.6)">(pmol O<tspan font-size="6.6" dy="2">2</tspan><tspan dy="-2">&#160;/min/ug protein)</tspan></text>
<text x="545" y="188" font-size="13" text-anchor="start" font-weight="bold" stroke="#000" stroke-width="0.45">H</text>
<line x1="594" y1="193.3" x2="594" y2="319.1" stroke="#000" stroke-width="1.4"/>
<line x1="590.5" y1="193.8" x2="594" y2="193.8" stroke="#000" stroke-width="1"/>
<text x="589.5" y="196.71" font-size="9.2" text-anchor="end" font-weight="bold">30</text>
<line x1="590.5" y1="235.4" x2="594" y2="235.4" stroke="#000" stroke-width="1"/>
<text x="589.5" y="238.31" font-size="9.2" text-anchor="end" font-weight="bold">20</text>
<line x1="590.5" y1="276.9" x2="594" y2="276.9" stroke="#000" stroke-width="1"/>
<text x="589.5" y="279.81" font-size="9.2" text-anchor="end" font-weight="bold">10</text>
<line x1="590.5" y1="318.5" x2="594" y2="318.5" stroke="#000" stroke-width="1"/>
<text x="589.5" y="321.41" font-size="9.2" text-anchor="end" font-weight="bold">0</text>
<line x1="593.4" y1="318.5" x2="677.75" y2="318.5" stroke="#000" stroke-width="1.4"/>
<line x1="609.5" y1="318.5" x2="609.5" y2="322.0" stroke="#000" stroke-width="1"/>
<line x1="635.25" y1="318.5" x2="635.25" y2="322.0" stroke="#000" stroke-width="1"/>
<line x1="660.25" y1="318.5" x2="660.25" y2="322.0" stroke="#000" stroke-width="1"/>
<rect x="602" y="207.5" width="16.5" height="111.0" fill="#000"/>
<line x1="610.25" y1="194.25" x2="610.25" y2="207.5" stroke="#000" stroke-width="1.1"/>
<line x1="606.15" y1="194.25" x2="614.35" y2="194.25" stroke="#000" stroke-width="1.2"/>
<rect x="627.25" y="282.5" width="16.25" height="36.0" fill="#000"/>
<line x1="635.38" y1="278.25" x2="635.38" y2="282.5" stroke="#000" stroke-width="1.1"/>
<line x1="631.27" y1="278.25" x2="639.48" y2="278.25" stroke="#000" stroke-width="1.2"/>
<rect x="652.25" y="239.25" width="16.25" height="79.25" fill="#000"/>
<line x1="660.38" y1="226.25" x2="660.38" y2="239.25" stroke="#000" stroke-width="1.1"/>
<line x1="656.27" y1="226.25" x2="664.48" y2="226.25" stroke="#000" stroke-width="1.2"/>
<polyline points="610.5,190.3 610.5,185.5 632.5,185.5 632.5,271.25" fill="none" stroke="#333" stroke-width="0.8"/>
<polyline points="638.5,271.25 638.5,216.5 659.5,216.5 659.5,222.5" fill="none" stroke="#333" stroke-width="0.8"/>
<text x="621.5" y="186.11" font-size="11" text-anchor="middle" font-weight="normal">*</text>
<text x="650.25" y="217.36" font-size="11" text-anchor="middle" font-weight="normal">*</text>
<text x="558.26" y="255.5" font-size="9.9" text-anchor="middle" font-weight="bold" transform="rotate(-90 558.26 255.5)">Maximal Respiration</text>
<text x="570.26" y="256.9" font-size="9.9" text-anchor="middle" font-weight="bold" transform="rotate(-90 570.26 256.9)">(pmol O<tspan font-size="6.6" dy="2">2</tspan><tspan dy="-2">/min/well)</tspan></text>
<text x="355.3" y="334.5" font-size="13" text-anchor="start" font-weight="bold" stroke="#000" stroke-width="0.45">I</text>
<line x1="410" y1="328.25" x2="410" y2="457.1" stroke="#000" stroke-width="1.4"/>
<line x1="406.5" y1="350.5" x2="410" y2="350.5" stroke="#000" stroke-width="1"/>
<text x="405.0" y="353.66" font-size="9.9" text-anchor="end" font-weight="bold">10</text>
<line x1="406.5" y1="403.5" x2="410" y2="403.5" stroke="#000" stroke-width="1"/>
<text x="405.0" y="406.66" font-size="9.9" text-anchor="end" font-weight="bold">5</text>
<line x1="406.5" y1="456.5" x2="410" y2="456.5" stroke="#000" stroke-width="1"/>
<text x="405.0" y="459.66" font-size="9.9" text-anchor="end" font-weight="bold">0</text>
<line x1="409.4" y1="456.5" x2="495.5" y2="456.5" stroke="#000" stroke-width="1.4"/>
<line x1="427.25" y1="456.5" x2="427.25" y2="460.0" stroke="#000" stroke-width="1"/>
<line x1="452.25" y1="456.5" x2="452.25" y2="460.0" stroke="#000" stroke-width="1"/>
<line x1="477.5" y1="456.5" x2="477.5" y2="460.0" stroke="#000" stroke-width="1"/>
<rect x="418.75" y="349.5" width="16.75" height="107.0" fill="#000"/>
<line x1="427.12" y1="344.25" x2="427.12" y2="349.5" stroke="#000" stroke-width="1.1"/>
<line x1="423.02" y1="344.25" x2="431.23" y2="344.25" stroke="#000" stroke-width="1.2"/>
<rect x="444.25" y="420" width="16.25" height="36.5" fill="#000"/>
<line x1="452.38" y1="416.75" x2="452.38" y2="420" stroke="#000" stroke-width="1.1"/>
<line x1="448.27" y1="416.75" x2="456.48" y2="416.75" stroke="#000" stroke-width="1.2"/>
<rect x="469.25" y="380" width="16.75" height="76.5" fill="#000"/>
<line x1="477.62" y1="373" x2="477.62" y2="380" stroke="#000" stroke-width="1.1"/>
<line x1="473.52" y1="373" x2="481.73" y2="373" stroke="#000" stroke-width="1.2"/>
<polyline points="427.5,340.75 427.5,336.5 449.5,336.5 449.5,408.75" fill="none" stroke="#333" stroke-width="0.8"/>
<polyline points="454.5,408.75 454.5,353.5 477.5,353.5 477.5,358.75" fill="none" stroke="#333" stroke-width="0.8"/>
<text x="436.75" y="336.11" font-size="11" text-anchor="middle" font-weight="normal">*</text>
<text x="468.75" y="354.36" font-size="11" text-anchor="middle" font-weight="normal">*</text>
<text x="375.53" y="392.6" font-size="10.5" text-anchor="middle" font-weight="bold" transform="rotate(-90 375.53 392.6)">ATP Linked Respiration</text>
<text x="387.08" y="392.6" font-size="10.5" text-anchor="middle" font-weight="bold" transform="rotate(-90 387.08 392.6)">(pmol O<tspan font-size="6.6" dy="2">2</tspan><tspan dy="-2">/min/ug protein)</tspan></text>
<text x="545" y="334.5" font-size="13" text-anchor="start" font-weight="bold" stroke="#000" stroke-width="0.45">J</text>
<line x1="594" y1="328.75" x2="594" y2="455.85" stroke="#000" stroke-width="1.4"/>
<line x1="590.5" y1="329.25" x2="594" y2="329.25" stroke="#000" stroke-width="1"/>
<text x="589.0" y="332.41" font-size="9.9" text-anchor="end" font-weight="bold">3</text>
<line x1="590.5" y1="371.25" x2="594" y2="371.25" stroke="#000" stroke-width="1"/>
<text x="589.0" y="374.41" font-size="9.9" text-anchor="end" font-weight="bold">2</text>
<line x1="590.5" y1="413.25" x2="594" y2="413.25" stroke="#000" stroke-width="1"/>
<text x="589.0" y="416.41" font-size="9.9" text-anchor="end" font-weight="bold">1</text>
<line x1="590.5" y1="455.25" x2="594" y2="455.25" stroke="#000" stroke-width="1"/>
<text x="589.0" y="458.41" font-size="9.9" text-anchor="end" font-weight="bold">0</text>
<line x1="593.4" y1="455.25" x2="677.75" y2="455.25" stroke="#000" stroke-width="1.4"/>
<line x1="610.25" y1="455.25" x2="610.25" y2="458.75" stroke="#000" stroke-width="1"/>
<line x1="635.25" y1="455.25" x2="635.25" y2="458.75" stroke="#000" stroke-width="1"/>
<line x1="660.25" y1="455.25" x2="660.25" y2="458.75" stroke="#000" stroke-width="1"/>
<rect x="602" y="363" width="16.5" height="92.25" fill="#000"/>
<line x1="610.25" y1="358.4" x2="610.25" y2="363" stroke="#000" stroke-width="1.1"/>
<line x1="606.15" y1="358.4" x2="614.35" y2="358.4" stroke="#000" stroke-width="1.2"/>
<rect x="627.75" y="397" width="15.75" height="58.25" fill="#000"/>
<line x1="635.62" y1="391.75" x2="635.62" y2="397" stroke="#000" stroke-width="1.1"/>
<line x1="631.52" y1="391.75" x2="639.73" y2="391.75" stroke="#000" stroke-width="1.2"/>
<rect x="652.75" y="365.5" width="16.75" height="89.75" fill="#000"/>
<line x1="661.12" y1="360" x2="661.12" y2="365.5" stroke="#000" stroke-width="1.1"/>
<line x1="657.02" y1="360" x2="665.23" y2="360" stroke="#000" stroke-width="1.2"/>
<polyline points="610.5,352.5 610.5,346.5 632.5,346.5 632.5,385.5" fill="none" stroke="#333" stroke-width="0.8"/>
<polyline points="637.5,385.5 637.5,346.5 660.5,346.5 660.5,352.8" fill="none" stroke="#333" stroke-width="0.8"/>
<text x="623.4" y="346.61" font-size="11" text-anchor="middle" font-weight="normal">*</text>
<text x="652.2" y="346.61" font-size="11" text-anchor="middle" font-weight="normal">*</text>
<text x="564.74" y="391.9" font-size="10.4" text-anchor="middle" font-weight="bold" transform="rotate(-90 564.74 391.9)">Proton Leak</text>
<text x="576.34" y="391.9" font-size="10.4" text-anchor="middle" font-weight="bold" transform="rotate(-90 576.34 391.9)">(pmol O<tspan font-size="6.6" dy="2">2</tspan><tspan dy="-2">/min/ug protein)</tspan></text>
<text x="0.5" y="474.1" font-size="9.3" text-anchor="start" font-weight="bold">GLC 5 (mM)</text>
<text x="74.25" y="473.8" font-size="9.3" text-anchor="middle" font-weight="bold">+</text>
<text x="100.5" y="473.8" font-size="9.3" text-anchor="middle" font-weight="bold">+</text>
<text x="126.25" y="473.8" font-size="9.3" text-anchor="middle" font-weight="bold">+</text>
<text x="0.5" y="485.9" font-size="9.3" text-anchor="start" font-weight="bold">PA 0.5 (mM)</text>
<text x="74.25" y="485.6" font-size="9.3" text-anchor="middle" font-weight="bold">-</text>
<text x="100.5" y="485.6" font-size="9.3" text-anchor="middle" font-weight="bold">+</text>
<text x="126.25" y="485.6" font-size="9.3" text-anchor="middle" font-weight="bold">+</text>
<text x="0.5" y="497.9" font-size="9.3" text-anchor="start" font-weight="bold">PA +BI605906</text>
<text x="74.25" y="497.6" font-size="9.3" text-anchor="middle" font-weight="bold">-</text>
<text x="100.5" y="497.6" font-size="9.3" text-anchor="middle" font-weight="bold">-</text>
<text x="126.25" y="497.6" font-size="9.3" text-anchor="middle" font-weight="bold">+</text>
<text x="163.5" y="474.1" font-size="9.3" text-anchor="start" font-weight="bold">GLC 5 (mM)</text>
<text x="238" y="473.8" font-size="9.3" text-anchor="middle" font-weight="bold">+</text>
<text x="264" y="473.8" font-size="9.3" text-anchor="middle" font-weight="bold">+</text>
<text x="289.75" y="473.8" font-size="9.3" text-anchor="middle" font-weight="bold">+</text>
<text x="163.5" y="485.9" font-size="9.3" text-anchor="start" font-weight="bold">PA 0.5(mM)</text>
<text x="238" y="485.6" font-size="9.3" text-anchor="middle" font-weight="bold">-</text>
<text x="264" y="485.6" font-size="9.3" text-anchor="middle" font-weight="bold">+</text>
<text x="289.75" y="485.6" font-size="9.3" text-anchor="middle" font-weight="bold">+</text>
<text x="163.5" y="497.9" font-size="9.3" text-anchor="start" font-weight="bold">PA +BI605906</text>
<text x="238" y="497.6" font-size="9.3" text-anchor="middle" font-weight="bold">-</text>
<text x="264" y="497.6" font-size="9.3" text-anchor="middle" font-weight="bold">-</text>
<text x="289.75" y="497.6" font-size="9.3" text-anchor="middle" font-weight="bold">+</text>
<text x="346.8" y="471.1" font-size="9.3" text-anchor="start" font-weight="bold">Palmitate</text>
<text x="427.25" y="472.0" font-size="9.3" text-anchor="middle" font-weight="bold">-</text>
<text x="452.25" y="472.0" font-size="9.3" text-anchor="middle" font-weight="bold">+</text>
<text x="477.5" y="472.0" font-size="9.3" text-anchor="middle" font-weight="bold">+</text>
<text x="346.8" y="482.6" font-size="9.3" text-anchor="start" font-weight="bold">EV</text>
<text x="427.25" y="484.5" font-size="9.3" text-anchor="middle" font-weight="bold">+</text>
<text x="452.25" y="484.5" font-size="9.3" text-anchor="middle" font-weight="bold">+</text>
<text x="477.5" y="484.5" font-size="9.3" text-anchor="middle" font-weight="bold">-</text>
<text x="346.8" y="496.5" font-size="9.3" text-anchor="start" font-weight="bold">IKBα<tspan font-size="6.8" dy="-3.6" dx="1.6">S32A, S36A</tspan></text>
<text x="427.25" y="495.75" font-size="9.3" text-anchor="middle" font-weight="bold">+</text>
<text x="452.25" y="495.75" font-size="9.3" text-anchor="middle" font-weight="bold">+</text>
<text x="477.5" y="495.75" font-size="9.3" text-anchor="middle" font-weight="bold">+</text>
<text x="530.5" y="469.6" font-size="9.3" text-anchor="start" font-weight="bold">Palmitate</text>
<text x="610.25" y="470.0" font-size="9.3" text-anchor="middle" font-weight="bold">-</text>
<text x="634.75" y="470.0" font-size="9.3" text-anchor="middle" font-weight="bold">+</text>
<text x="660.25" y="470.0" font-size="9.3" text-anchor="middle" font-weight="bold">+</text>
<text x="530.5" y="480.6" font-size="9.3" text-anchor="start" font-weight="bold">EV</text>
<text x="610.25" y="481.5" font-size="9.3" text-anchor="middle" font-weight="bold">+</text>
<text x="634.75" y="481.5" font-size="9.3" text-anchor="middle" font-weight="bold">+</text>
<text x="660.25" y="481.5" font-size="9.3" text-anchor="middle" font-weight="bold">-</text>
<text x="530.5" y="494.1" font-size="9.3" text-anchor="start" font-weight="bold">IKBα<tspan font-size="6.8" dy="-3.6" dx="1.6">S32A, S36A</tspan></text>
<text x="610.25" y="493.25" font-size="9.3" text-anchor="middle" font-weight="bold">+</text>
<text x="634.75" y="493.25" font-size="9.3" text-anchor="middle" font-weight="bold">+</text>
<text x="660.25" y="493.25" font-size="9.3" text-anchor="middle" font-weight="bold">+</text>
</svg></body></html>
